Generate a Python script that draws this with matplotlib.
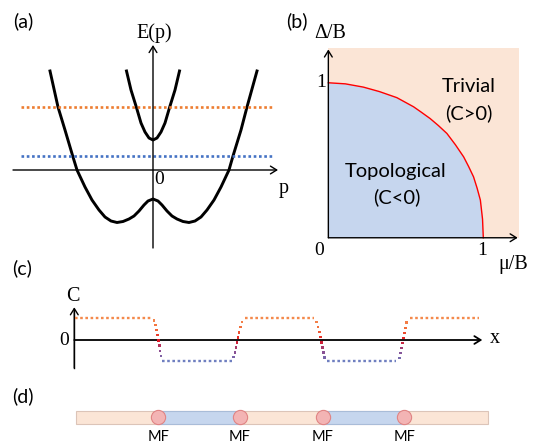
import matplotlib
matplotlib.use('Agg')
import matplotlib.pyplot as plt
from matplotlib.patches import Rectangle
from matplotlib.colors import LinearSegmentedColormap

# ---- (a) band structure, p and E in arbitrary units
band_lo_p = [-10.3, -9.5, -8.8, -8.0, -7.6, -6.8, -6.1, -5.4, -4.8, -4.2, -3.6,
             -3.0, -2.4, -1.9, -1.4, -0.9, -0.5, 0.0, 0.5, 0.9, 1.4, 1.9, 2.4,
             3.0, 3.6, 4.2, 4.8, 5.4, 6.1, 6.8, 7.6, 8.0, 8.8, 9.4, 10.4]
band_lo_E = [9.9, 6.3, 4.0, 1.3, 0.0, -1.7, -3.0, -4.0, -4.7, -5.1, -5.25,
             -5.15, -4.9, -4.6, -4.1, -3.5, -3.1, -2.9, -3.1, -3.5, -4.1, -4.6, -4.9,
             -5.15, -5.25, -5.1, -4.7, -4.0, -3.0, -1.7, 0.0, 1.4, 4.0, 6.3, 9.9]
band_hi_p = [-2.65, -2.2, -1.67, -1.2, -0.8, -0.4, 0.0, 0.4, 0.8, 1.2, 1.67, 2.2, 2.65]
band_hi_E = [9.9, 8.0, 6.3, 4.7, 3.8, 3.2, 3.0, 3.2, 3.8, 4.7, 6.3, 8.0, 9.9]
fermi_levels = [6.3, 1.4]
fermi_colors = ['#ED7D31', '#4472C4']

# ---- (b) phase diagram boundary
bound_mu = [0.0, 0.11, 0.226, 0.33, 0.442, 0.55, 0.60, 0.657, 0.71, 0.765, 0.82,
            0.873, 0.905, 0.937, 0.96, 0.981, 0.995, 1.0]
bound_delta = [1.0, 0.993, 0.972, 0.943, 0.904, 0.845, 0.81, 0.769, 0.724, 0.673, 0.60,
               0.522, 0.46, 0.393, 0.32, 0.243, 0.12, 0.0]
diag_max = (1.23, 1.226)

# ---- (c) Chern number along the wire
plateau_x0 = [0.04, 8.80, 17.07, 25.30, 33.57]
plateau_x1 = [7.74, 15.74, 23.97, 32.17, 40.47]
plateau_C = [1.0, -0.95, 1.0, -0.95, 1.0]
wall_x = [7.99, 8.10, 8.20, 8.30, 8.40, 8.50, 8.59, 8.67,
          15.92, 16.07, 16.17, 16.27, 16.37, 16.47, 16.60, 16.77,
          24.24, 24.37, 24.50, 24.60, 24.70, 24.80, 24.90, 25.00,
          32.50, 32.64, 32.74, 32.84, 32.94, 33.04, 33.14, 33.24]
wall_C = [0.90, 0.69, 0.45, 0.22, -0.03, -0.26, -0.51, -0.74,
          -0.78, -0.57, -0.34, -0.11, 0.12, 0.35, 0.60, 0.83,
          0.84, 0.61, 0.38, 0.15, -0.11, -0.34, -0.57, -0.80,
          -0.84, -0.61, -0.38, -0.15, 0.08, 0.31, 0.54, 0.80]

# ---- (d) wire with Majorana fermions
wire_x = (0.17, 41.34)
mf_x = [8.4, 16.57, 24.84, 33.0]
mf_labels = ['MF', 'MF', 'MF', 'MF']

PEACH = '#FBE5D6'
LBLUE = '#C6D6EE'
SERIF = 'Liberation Serif'
SANS = 'Lato'

W, H = 536, 445
fig = plt.figure(figsize=(W / 100, H / 100), dpi=100)


def add_panel(x0, y0, x1, y1, xlim, ylim):
    # axes placed by pixel box (top-left origin)
    ax = fig.add_axes([x0 / W, 1 - y1 / H, (x1 - x0) / W, (y1 - y0) / H])
    ax.set_xlim(*xlim)
    ax.set_ylim(*ylim)
    ax.axis('off')
    return ax


def arrow(ax, x0, y0, x1, y1, lw=1.0, color='black'):
    ax.annotate('', xy=(x1, y1), xytext=(x0, y0),
                arrowprops=dict(arrowstyle='->,head_length=0.45,head_width=0.28',
                                lw=lw, color=color, shrinkA=0, shrinkB=0))


def label(x, y, s):
    fig.text(x / W, 1 - y / H, s, ha='center', va='center', family=SANS, size=14)


# (a)
axa = add_panel(0, 0, 290, 260, (-15.3, 13.7), (-9.0, 17.0))
arrow(axa, -14.0, 0, 12.5, 0)
arrow(axa, 0, -7.8, 0, 12.5)
axa.plot(band_lo_p, band_lo_E, color='black', lw=2.1, solid_joinstyle='round')
axa.plot(band_hi_p, band_hi_E, color='black', lw=2.1, solid_joinstyle='round')
for lev, col in zip(fermi_levels, fermi_colors):
    axa.plot([-13.2, 11.9], [lev, lev], color=col, lw=1.9, ls=(0, (1, 1)),
             dash_capstyle='butt')
axa.text(0.1, 13.7, 'E(p)', ha='center', va='center', family=SERIF, size=14.5)
axa.text(0.6, -1.0, '0', ha='center', va='center', family=SERIF, size=14)
axa.text(13.1, -1.8, 'p', ha='center', va='center', family=SERIF, size=14.5)
label(23, 21, '(a)')

# (b)
axb = add_panel(280, 0, 536, 270, (-0.312, 1.34), (-0.208, 1.534))
axb.add_patch(Rectangle((0, 0), diag_max[0], diag_max[1], facecolor=PEACH,
                        edgecolor='none'))
axb.fill([0] + bound_mu, [0] + bound_delta, color=LBLUE, lw=0)
axb.plot(bound_mu, bound_delta, color='#FF0000', lw=1.0)
arrow(axb, 0, 0, 1.222, 0)
arrow(axb, 0, 0, 0, 1.215)
axb.text(0.011, 1.32, 'Δ/B', ha='center', va='center', family=SERIF, size=14.5)
axb.text(-0.049, 1.0, '1', ha='center', va='center', family=SERIF, size=14)
axb.text(-0.058, -0.084, '0', ha='center', va='center', family=SERIF, size=14)
axb.text(0.99, -0.079, '1', ha='center', va='center', family=SERIF, size=14)
axb.text(1.19, -0.17, 'μ/B', ha='center', va='center', family=SERIF, size=14.5)
axb.text(0.908, 0.975, 'Trivial', ha='center', va='center', family=SANS, size=14.5)
axb.text(0.908, 0.805, '(C>0)', ha='center', va='center', family=SANS, size=14.5)
axb.text(0.437, 0.43, 'Topological', ha='center', va='center', family=SANS, size=14.5)
axb.text(0.441, 0.26, '(C<0)', ha='center', va='center', family=SANS, size=14.5)
label(297, 21, '(b)')

# (c)
axc = add_panel(0, 280, 536, 380, (-7.43, 46.17), (-1.843, 2.765))
axc.plot([0, 0], [-1.29, 1.4], color='black', lw=1.0)
arrow(axc, 0, -1.29, 0, 1.51)
arrow(axc, 0, 0, 40.8, 0, lw=1.3)
for x0, x1, c in zip(plateau_x0, plateau_x1, plateau_C):
    col = '#F4894B' if c > 0 else '#6F7FC0'
    axc.plot([x0, x1], [c, c], color=col, lw=1.7, ls=(0, (1.1, 1.1)),
             dash_capstyle='butt', zorder=3)
wall_cmap = LinearSegmentedColormap.from_list(
    'wall', ['#6F78BC', '#8C4A8E', '#E3141E', '#F26A36', '#F48A50'])
axc.scatter(wall_x, wall_C, c=wall_C, cmap=wall_cmap, vmin=-1, vmax=1,
            marker='s', s=3.0, linewidths=0, zorder=4)
axc.text(-0.1, 2.0, 'C', ha='center', va='center', family=SERIF, size=14.5)
axc.text(-1.0, 0.0, '0', ha='center', va='center', family=SERIF, size=14)
axc.text(42.1, 0.05, 'x', ha='center', va='center', family=SERIF, size=14.5)
label(22, 268, '(c)')

# (d)
axd = add_panel(0, 380, 536, 445, (-7.43, 46.17), (-1.522, 3.257))
axd.add_patch(Rectangle((wire_x[0], 0), wire_x[1] - wire_x[0], 1,
                        facecolor=PEACH, edgecolor='#DCC4B8', lw=0.8))
for a, b in [(mf_x[0], mf_x[1]), (mf_x[2], mf_x[3])]:
    axd.add_patch(Rectangle((a, 0), b - a, 1, facecolor=LBLUE,
                            edgecolor='#A9BCD8', lw=0.8))
axd.scatter(mf_x, [0.5] * len(mf_x), s=105, facecolor='#F3B4B4',
            edgecolor='#E08484', linewidths=0.8, zorder=3)
for x, s in zip(mf_x, mf_labels):
    axd.text(x, -0.45, s, ha='center', va='top', family=SANS, size=10.5)
label(23, 396, '(d)')

fig.savefig('out.png', dpi=100)
